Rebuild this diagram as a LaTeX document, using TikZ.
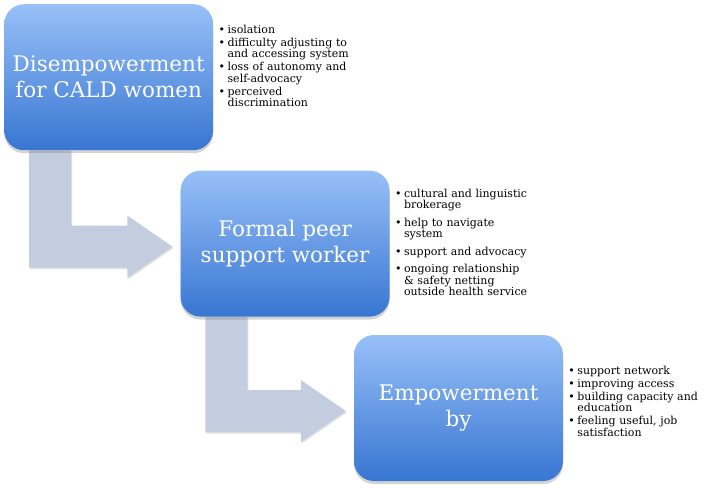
\documentclass[tikz,border=0pt]{standalone}
\usepackage{fontspec}
\setmainfont{DejaVu Serif}
\usepackage{tikz}
\usetikzlibrary{positioning, calc, shadows, backgrounds}
\definecolor{boxtop}{RGB}{152,192,248}
\definecolor{boxbottom}{RGB}{56,118,210}
\definecolor{arrowgrey}{RGB}{196,205,224}
\newcommand{\bpoint}[1]{\par\noindent\hangindent=9pt\hangafter=1\makebox[9pt][l]{\textbullet}#1\par}
\newcommand{\bentarrow}[2]{%
  \fill[bent] let \p1=($(#1.south west)+(25pt,0pt)$), \p2=($(#2.west)+(-8pt,-3pt)$) in
    (\x1,\y1) -- (\x1,\y2-21pt) -- (\x2-45pt,\y2-21pt) -- (\x2-45pt,\y2-31pt)
    -- (\x2,\y2) -- (\x2-45pt,\y2+31pt) -- (\x2-45pt,\y2+21pt) -- (\x1+42pt,\y2+21pt)
    -- (\x1+42pt,\y1) -- cycle;}

\begin{document}
\begin{tikzpicture}[
  stage/.style={rounded corners=20pt, minimum width=209pt, minimum height=146pt, top color=boxtop, bottom color=boxbottom, text=white, align=center, font=\fontsize{21.5}{26}\selectfont, drop shadow={shadow xshift=0pt, shadow yshift=-3pt, opacity=0.35}},
  points/.style={text width=140pt, align=left, inner sep=0pt, font=\fontsize{11}{11.5}\selectfont, execute at begin node={\setlength{\parskip}{#1}}},
  points/.default=1.5pt,
  bent/.style={fill=arrowgrey, drop shadow={shadow xshift=1pt, shadow yshift=-1.5pt, opacity=0.25}}
]
  \useasboundingbox (0,0) rectangle (709pt,-487pt);

  % Stages
  \node[stage, anchor=north west] (dis) at (4pt,-4pt) {Disempowerment\\for CALD women};
  \node[stage, below right=20pt and -33pt of dis.south east, anchor=north west] (peer) {Formal peer\\support worker};
  \node[stage, below right=18pt and -36pt of peer.south east, anchor=north west] (emp) {Empowerment\\by};

  % Points
  \node[points, below right=16pt and 5pt of dis.north east, anchor=north west] (dis-pts) {%
    \bpoint{isolation}
    \bpoint{difficulty adjusting to\newline and accessing system}
    \bpoint{loss of autonomy and\newline self-advocacy}
    \bpoint{perceived\newline discrimination}};
  \node[points=6pt, right=5pt of peer.east, yshift=6pt] (peer-pts) {%
    \bpoint{cultural and linguistic\newline brokerage}
    \bpoint{help to navigate\newline system}
    \bpoint{support and advocacy}
    \bpoint{ongoing relationship\newline \& safety netting\newline outside health service}};
  \node[points, right=5pt of emp.east, yshift=9pt] (emp-pts) {%
    \bpoint{support network}
    \bpoint{improving access}
    \bpoint{building capacity and\newline education}
    \bpoint{feeling useful, job\newline satisfaction}};

  % Arrows
  \begin{scope}[on background layer]
    \bentarrow{dis}{peer}
    \bentarrow{peer}{emp}
  \end{scope}
\end{tikzpicture}
\end{document}
